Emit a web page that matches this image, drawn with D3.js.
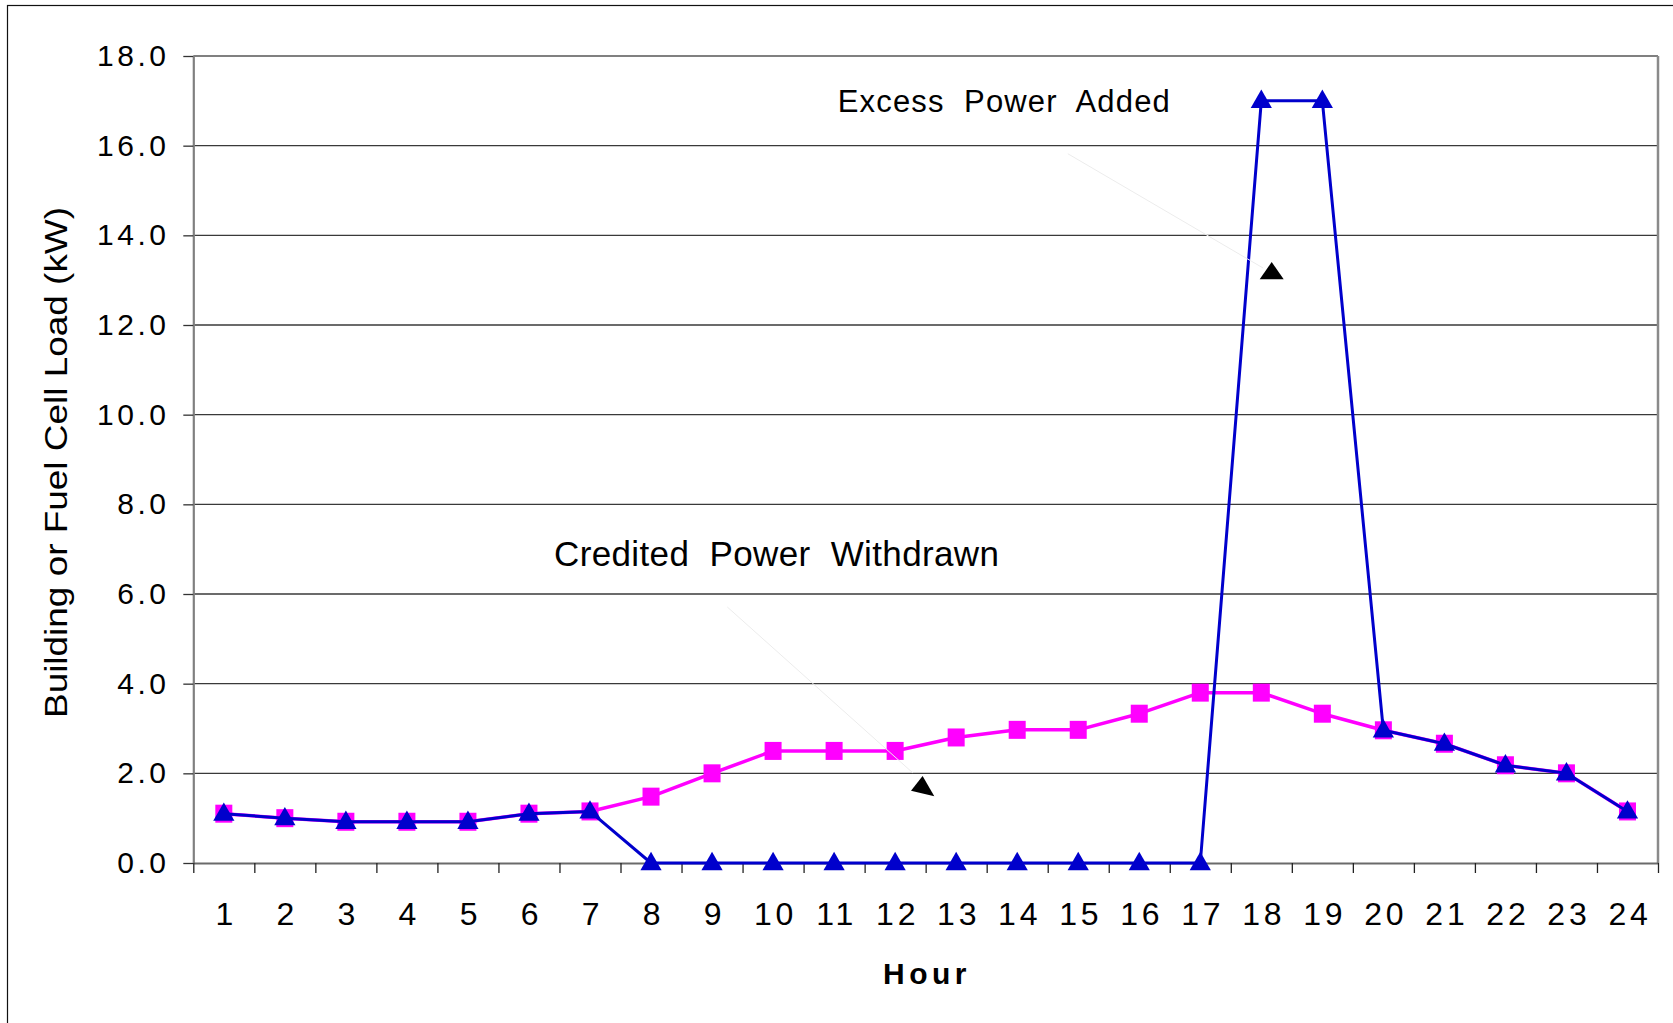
<!DOCTYPE html>
<html>
<head>
<meta charset="utf-8">
<script src="https://cdn.jsdelivr.net/npm/d3@7/dist/d3.min.js"></script>
<style>
  body { margin: 0; background: #fff; }
  svg { display: block; }
  text { font-family: "Liberation Sans", Arial, sans-serif; fill: #000; }
</style>
</head>
<body>
<svg id="chart" width="1673" height="1023"></svg>
<script>
// ---- data ----
const hours = [1,2,3,4,5,6,7,8,9,10,11,12,13,14,15,16,17,18,19,20,21,22,23,24];
const buildingLoad = [1.10,1.00,0.92,0.92,0.92,1.10,1.15,1.48,2.00,2.50,2.50,2.50,2.80,2.97,2.97,3.33,3.80,3.80,3.33,2.96,2.66,2.18,2.00,1.15];
const fuelCellLoad = [1.10,1.00,0.92,0.92,0.92,1.10,1.15,0,0,0,0,0,0,0,0,0,0,17.0,17.0,2.96,2.66,2.18,2.00,1.15];
const yTicks = [0,2,4,6,8,10,12,14,16,18];
const xTitle = "Hour";
const yTitle = "Building or Fuel Cell Load (kW)";
// annotations in data coordinates (hour, kW)
const annotationTexts = ["Excess  Power  Added", "Credited  Power  Withdrawn"];
const annotationTextPos = [[11.06, 16.75], [6.41, 6.63]];
const annotationLeaders = [[[14.83, 15.82], [18.03, 13.27]], [[9.25, 5.71], [12.29, 2.01]]];
const annotationHeads = [[18.17, 13.16], [12.45, 1.68]];

// ---- layout ----
const svg = d3.select("#chart");
const L = 193.3, R = 1658, T = 56, B = 863;
const x = d3.scaleLinear().domain([0.5, 24.5]).range([L, R]);
const y = d3.scaleLinear().domain([0, 18]).range([B, T]);

// outer frame (extends beyond the picture on right/bottom)
svg.append("rect").attr("x", 7.5).attr("y", 5.5).attr("width", 2000).attr("height", 2000)
  .attr("fill", "none").attr("stroke", "#111").attr("stroke-width", 1.2);

// gridlines
svg.append("g").selectAll("line").data(yTicks.filter(d => d > 0 && d < 18)).join("line")
  .attr("x1", L).attr("x2", R).attr("y1", d => y(d)).attr("y2", d => y(d))
  .attr("stroke", "#3a3a3a").attr("stroke-width", 1.3);

// top and right plot border
svg.append("line").attr("x1", L).attr("x2", R).attr("y1", y(18)).attr("y2", y(18))
  .attr("stroke", "#808080").attr("stroke-width", 2.2);
svg.append("line").attr("x1", R).attr("x2", R).attr("y1", T).attr("y2", B)
  .attr("stroke", "#8a8a8a").attr("stroke-width", 2.5);

// y axis
const yAxis = svg.append("g").attr("transform", `translate(${L},0)`)
  .call(d3.axisLeft(y).tickValues(yTicks).tickFormat(d3.format(".1f")).tickSize(10).tickSizeOuter(0).tickPadding(13.8));
yAxis.select(".domain").attr("stroke", "#808080").attr("stroke-width", 2.2);
yAxis.selectAll(".tick line").attr("stroke", "#333").attr("stroke-width", 1.3);
yAxis.selectAll(".tick text").attr("font-size", 30).style("letter-spacing", "3.5px")
  .attr("font-family", "Liberation Sans, Arial, sans-serif").attr("fill", "#000");

// x axis: ticks at category boundaries
const boundaries = hours.map(h => h - 0.5).concat([hours[hours.length - 1] + 0.5]);
const xAxis = svg.append("g").attr("transform", `translate(0,${B})`)
  .call(d3.axisBottom(x).tickValues(boundaries).tickFormat("").tickSize(10).tickSizeOuter(0));
xAxis.select(".domain").attr("stroke", "#6a6a6a").attr("stroke-width", 2.2);
xAxis.selectAll(".tick line").attr("stroke", "#222").attr("stroke-width", 1.3);

// x labels at category centres
const xLab = svg.append("g").attr("transform", `translate(0,${B})`)
  .call(d3.axisBottom(x).tickValues(hours).tickFormat(d3.format("d")).tickSize(0));
xLab.select(".domain").remove();
xLab.selectAll(".tick text").attr("font-size", 32).attr("y", 62).attr("dy", 0).attr("dx", 2)
  .style("letter-spacing", "3.8px").attr("font-family", "Liberation Sans, Arial, sans-serif").attr("fill", "#000");

// axis titles
svg.append("text").attr("x", 927).attr("y", 984).attr("text-anchor", "middle")
  .attr("font-size", 30).attr("font-weight", "bold").style("letter-spacing", "4.5px").text(xTitle);
svg.append("text").attr("transform", "translate(67,462.5) rotate(-90)").attr("text-anchor", "middle")
  .attr("font-size", 31).attr("textLength", 511).attr("lengthAdjust", "spacingAndGlyphs").text(yTitle);

// series
const line = d3.line().x((d, i) => x(hours[i])).y(d => y(d));

svg.append("path").datum(buildingLoad).attr("d", line)
  .attr("fill", "none").attr("stroke", "#FF00FF").attr("stroke-width", 3.5).attr("stroke-linejoin", "round");
svg.append("g").selectAll("rect").data(buildingLoad).join("rect")
  .attr("x", (d, i) => x(hours[i]) - 8.5).attr("y", d => y(d) - 9)
  .attr("width", 17).attr("height", 18).attr("fill", "#FF00FF");

svg.append("path").datum(fuelCellLoad).attr("d", line)
  .attr("fill", "none").attr("stroke", "#0000CC").attr("stroke-width", 3).attr("stroke-linejoin", "round");
const tri = d3.symbol().type(d3.symbolTriangle).size(195);
svg.append("g").selectAll("path").data(fuelCellLoad).join("path")
  .attr("d", tri).attr("transform", (d, i) => `translate(${x(hours[i])},${y(d) + 1})`)
  .attr("fill", "#0000CC");

// annotations
const ann = svg.append("g");
annotationLeaders.forEach(seg => {
  ann.append("line").attr("x1", x(seg[0][0])).attr("y1", y(seg[0][1]))
    .attr("x2", x(seg[1][0])).attr("y2", y(seg[1][1]))
    .attr("stroke", "#ececec").attr("stroke-width", 1);
});
const headShapes = [
  [[0, -11], [-12, 6.3], [12, 6.3]],
  [[0, -11.7], [-11.6, 3], [11.7, 8.6]]
];
annotationHeads.forEach((p, i) => {
  const cx = x(p[0]), cy = y(p[1]);
  ann.append("polygon").attr("points", headShapes[i].map(o => `${cx + o[0]},${cy + o[1]}`).join(" "))
    .attr("fill", "#000");
});
const annSizes = [31, 35], annLens = [332, 445];
annotationTexts.forEach((t, i) => {
  ann.append("text").attr("x", x(annotationTextPos[i][0])).attr("y", y(annotationTextPos[i][1]))
    .attr("font-size", annSizes[i]).attr("textLength", annLens[i]).attr("lengthAdjust", "spacing")
    .attr("xml:space", "preserve").style("white-space", "pre").text(t);
});
</script>
</body>
</html>
